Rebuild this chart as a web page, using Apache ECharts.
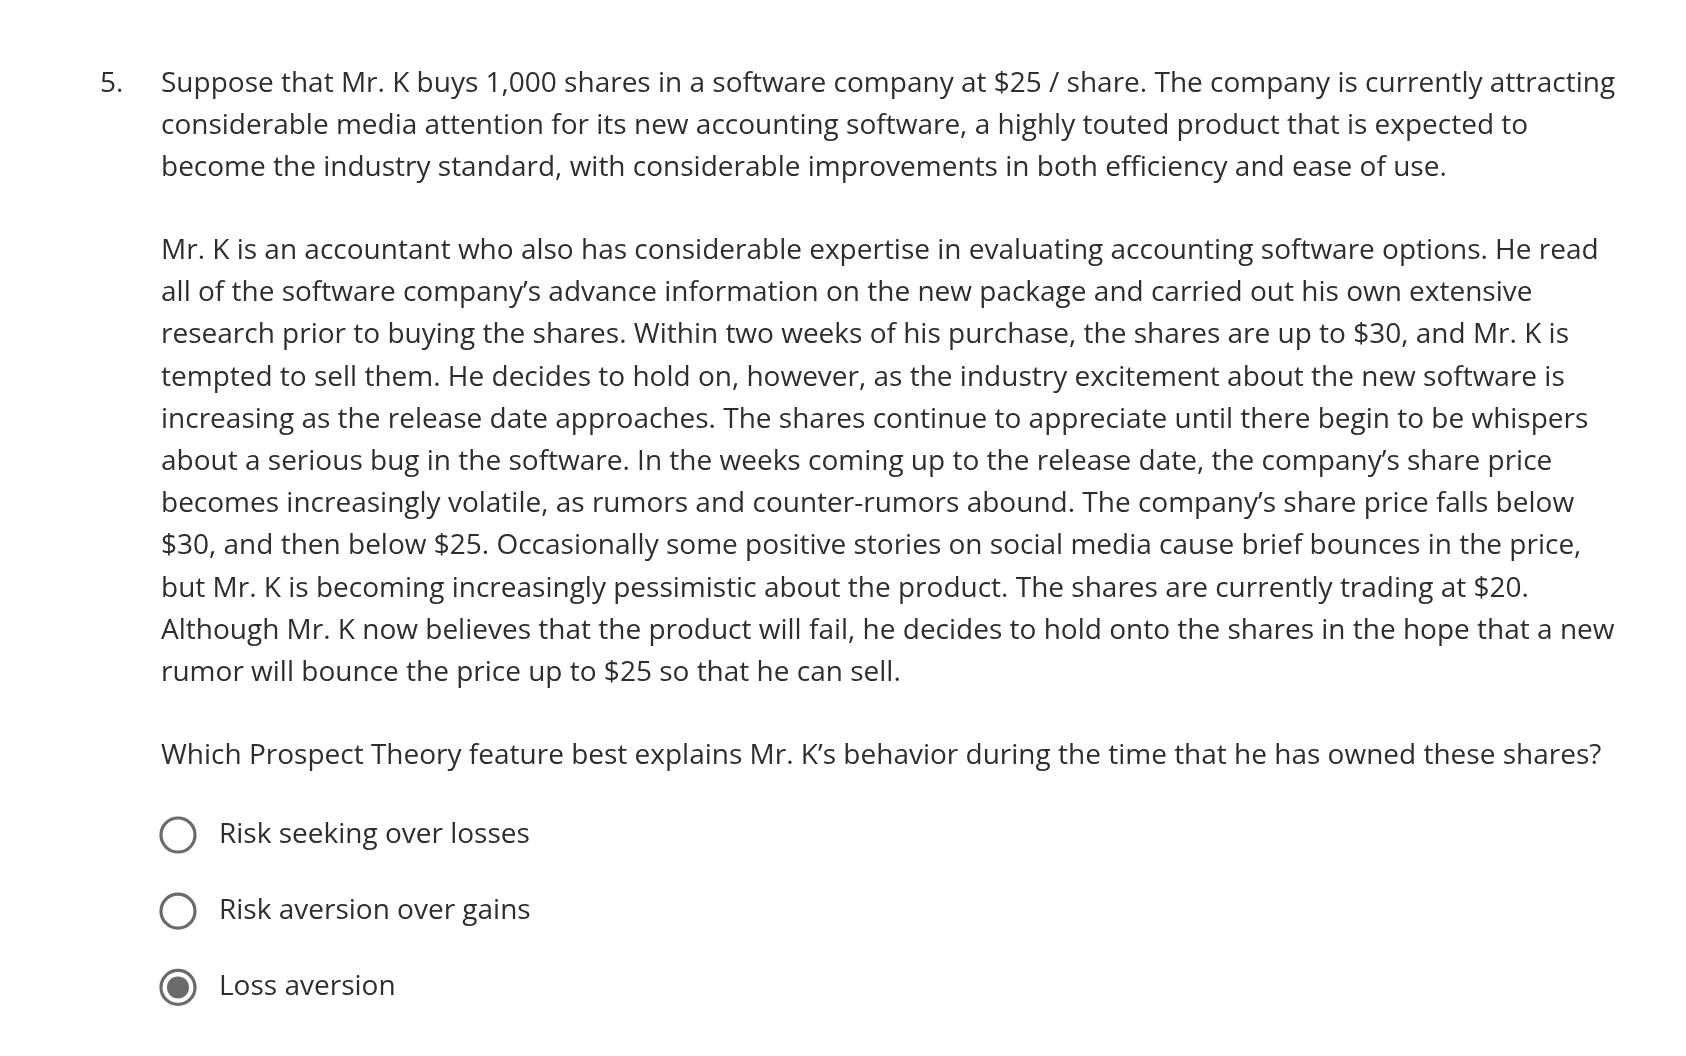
<!DOCTYPE html>
<html>
<head>
<meta charset="utf-8">
<script src="https://cdn.jsdelivr.net/npm/echarts@6/dist/echarts.min.js"></script>
<style>
  html, body { margin: 0; padding: 0; background: #fff; }
  #main { width: 1686px; height: 1056px; }
</style>
</head>
<body>
<div id="main"></div>
<script>
const questionNumber = "5.";

const introLines = [
  "Suppose that Mr. K buys 1,000 shares in a software company at $25 / share. The company is currently attracting",
  "considerable media attention for its new accounting software, a highly touted product that is expected to",
  "become the industry standard, with considerable improvements in both efficiency and ease of use."
];

const storyLines = [
  "Mr. K is an accountant who also has considerable expertise in evaluating accounting software options. He read",
  "all of the software company\u2019s advance information on the new package and carried out his own extensive",
  "research prior to buying the shares. Within two weeks of his purchase, the shares are up to $30, and Mr. K is",
  "tempted to sell them. He decides to hold on, however, as the industry excitement about the new software is",
  "increasing as the release date approaches. The shares continue to appreciate until there begin to be whispers",
  "about a serious bug in the software. In the weeks coming up to the release date, the company\u2019s share price",
  "becomes increasingly volatile, as rumors and counter-rumors abound. The company\u2019s share price falls below",
  "$30, and then below $25. Occasionally some positive stories on social media cause brief bounces in the price,",
  "but Mr. K is becoming increasingly pessimistic about the product. The shares are currently trading at $20.",
  "Although Mr. K now believes that the product will fail, he decides to hold onto the shares in the hope that a new",
  "rumor will bounce the price up to $25 so that he can sell."
];

const questionLine = "Which Prospect Theory feature best explains Mr. K\u2019s behavior during the time that he has owned these shares?";

const answerOptions = ["Risk seeking over losses", "Risk aversion over gains", "Loss aversion"];
const selectedIndex = 2;

const textColor = "#2e2e2e";
const font = '28px "Open Sans"';
const lineGap = 42.2;

const elements = [];
function addText(str, x, y) {
  elements.push({
    type: "text", x: x, y: y,
    style: { text: str, font: font, fill: textColor, textVerticalAlign: "middle" }
  });
}

addText(questionNumber, 100, 84);
introLines.forEach((t, i) => addText(t, 161, 84 + i * lineGap));
storyLines.forEach((t, i) => addText(t, 161, 251 + i * lineGap));
addText(questionLine, 161, 756);

answerOptions.forEach((t, i) => {
  const cy = 835 + i * 76.2;
  elements.push({
    type: "circle", shape: { cx: 178, cy: cy, r: 17 },
    style: { fill: "#fff", stroke: "#6b6b6b", lineWidth: 3.2 }
  });
  if (i === selectedIndex) {
    elements.push({
      type: "circle", shape: { cx: 178, cy: cy, r: 11 },
      style: { fill: "#6b6b6b" }
    });
  }
  addText(t, 219, cy);
});

const chart = echarts.init(document.getElementById("main"));
chart.setOption({
  backgroundColor: "#fff",
  animation: false,
  graphic: { elements: elements }
});
</script>
</body>
</html>
